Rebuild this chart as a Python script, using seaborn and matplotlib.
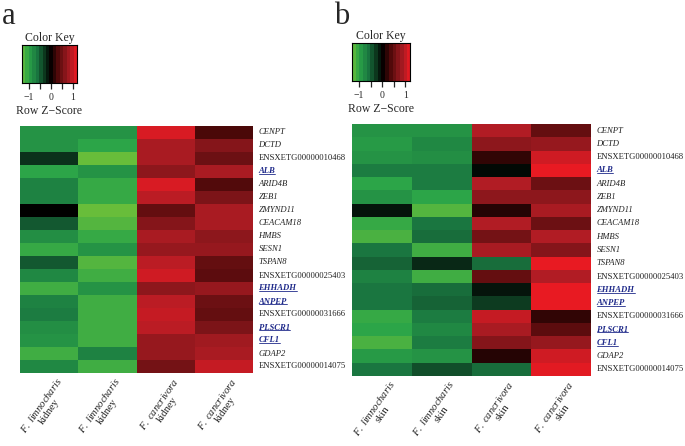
import numpy as np
import pandas as pd
import matplotlib
matplotlib.use("Agg")
import matplotlib.pyplot as plt
import seaborn as sns
from matplotlib.colors import LinearSegmentedColormap
from matplotlib.lines import Line2D

sns.set_style("white")
plt.rcParams['font.family'] = ['Liberation Serif', 'DejaVu Serif']
plt.rcParams['mathtext.fontset'] = 'custom'
plt.rcParams['mathtext.it'] = 'Liberation Serif:italic'
plt.rcParams['mathtext.rm'] = 'Liberation Serif'
plt.rcParams['axes.unicode_minus'] = True

genes = ["CENPT", "DCTD", "ENSXETG00000010468", "ALB", "ARID4B", "ZEB1", "ZMYND11",
         "CEACAM18", "HMBS", "SESN1", "TSPAN8", "ENSXETG00000025403", "EHHADH", "ANPEP",
         "ENSXETG00000031666", "PLSCR1", "CFL1", "GDAP2", "ENSXETG00000014075"]
highlight = ["ALB", "EHHADH", "ANPEP", "PLSCR1", "CFL1"]

species_a = ["F. limnocharis", "F. limnocharis", "F. cancrivora", "F. cancrivora"]
tissue_a = ["kidney", "kidney", "kidney", "kidney"]
species_b = ["F. limnocharis", "F. limnocharis", "F. cancrivora", "F. cancrivora"]
tissue_b = ["skin", "skin", "skin", "skin"]

kidney_z = [
    [-0.85, -0.85, 1.10, 0.30],
    [-0.85, -1.00, 0.85, 0.65],
    [-0.25, -1.30, 0.85, 0.50],
    [-1.00, -0.85, 0.70, 0.85],
    [-0.70, -1.05, 1.10, 0.35],
    [-0.70, -1.05, 0.95, 0.60],
    [0.00, -1.30, 0.45, 0.85],
    [-0.45, -1.20, 0.65, 0.85],
    [-0.80, -1.05, 0.85, 0.70],
    [-1.05, -0.85, 0.75, 0.75],
    [-0.45, -1.20, 0.95, 0.45],
    [-0.75, -1.10, 1.05, 0.40],
    [-1.10, -0.85, 0.70, 0.75],
    [-0.70, -1.10, 0.95, 0.50],
    [-0.65, -1.10, 1.00, 0.45],
    [-0.80, -1.10, 0.95, 0.60],
    [-0.85, -1.10, 0.75, 0.80],
    [-1.10, -0.70, 0.75, 0.85],
    [-0.75, -1.10, 0.55, 1.00],
]

skin_z = [
    [-0.85, -0.85, 0.90, 0.45],
    [-0.90, -0.75, 0.70, 0.75],
    [-0.85, -0.80, 0.20, 1.05],
    [-0.65, -0.65, -0.05, 1.18],
    [-1.00, -0.65, 0.90, 0.50],
    [-0.85, -1.00, 0.70, 0.70],
    [-0.10, -1.20, 0.15, 0.85],
    [-1.05, -0.60, 0.90, 0.50],
    [-1.15, -0.55, 0.55, 0.90],
    [-0.60, -1.10, 0.85, 0.65],
    [-0.50, -0.20, -0.55, 1.18],
    [-0.70, -1.10, 0.45, 0.90],
    [-0.60, -0.55, -0.10, 1.18],
    [-0.60, -0.50, -0.30, 1.18],
    [-1.05, -0.65, 1.00, 0.20],
    [-1.00, -0.75, 0.85, 0.40],
    [-1.15, -0.65, 0.65, 0.75],
    [-0.90, -0.85, 0.15, 1.05],
    [-0.60, -0.40, -0.55, 1.15],
]

key_ticks = [-1, -0.5, 0, 0.5, 1]
key_labels = ["\u22121", "", "0", "", "1"]

vmin, vmax = -1.3, 1.2
nodes = [(-1.3, '#68bd3a'), (-1.0, '#2ba548'), (-0.6, '#1a7640'), (0.0, '#000000'),
         (0.3, '#4a0808'), (0.6, '#7c1418'), (0.9, '#b01c24'), (1.2, '#ec1a22')]
cmap = LinearSegmentedColormap.from_list(
    "gbr", [((v - vmin) / (vmax - vmin), c) for v, c in nodes])

W, H = 685, 446
fig = plt.figure(figsize=(W / 100, H / 100), dpi=100)


def fx(px):
    return px / W


def fy(py):
    return 1 - py / H


def panel(letter, data, species, tissue, hm_box, key_box, letter_x):
    x0, y0, x1, y1 = hm_box
    ax = fig.add_axes([fx(x0), fy(y1), fx(x1) - fx(x0), fy(y0) - fy(y1)])
    cols = [f"{s} {t} {i}" for i, (s, t) in enumerate(zip(species, tissue))]
    df = pd.DataFrame(data, index=genes, columns=cols)
    sns.heatmap(df, ax=ax, cmap=cmap, vmin=vmin, vmax=vmax, cbar=False,
                xticklabels=False, yticklabels=True, linewidths=0)
    ax.yaxis.tick_right()
    ax.tick_params(axis='y', length=0, pad=4)
    for lab in ax.get_yticklabels():
        t = lab.get_text()
        lab.set_rotation(0)
        lab.set_fontsize(6.25)
        lab.set_va('center')
        if t in highlight:
            lab.set_color('#1f2a8a')
            lab.set_fontweight('bold')
            lab.set_fontstyle('italic')
        elif t.startswith('ENSXETG'):
            lab.set_color('#222222')
        else:
            lab.set_fontstyle('italic')
            lab.set_color('#222222')
    for i, (s, t) in enumerate(zip(species, tissue)):
        sp = s.replace(' ', r'\ ')
        ax.text(i + 0.6, len(genes) + 0.2, r'$\mathit{' + sp + '}$' + '\n' + t,
                rotation=55, rotation_mode='anchor', ha='right', va='top',
                multialignment='center', fontsize=7.6, color='#222222',
                linespacing=1.05)
    # color key
    kx0, ky0, kx1, ky1 = key_box
    kax = fig.add_axes([fx(kx0), fy(ky1), fx(kx1) - fx(kx0), fy(ky0) - fy(ky1)])
    steps = np.linspace(vmin, vmax, 17)
    mids = ((steps[:-1] + steps[1:]) / 2).reshape(1, -1)
    kax.imshow(mids, extent=[vmin, vmax, 0, 1], aspect='auto', cmap=cmap,
               vmin=vmin, vmax=vmax, interpolation='nearest')
    kax.set_xlim(vmin, vmax)
    kax.set_yticks([])
    kax.set_xticks(key_ticks)
    kax.set_xticklabels(key_labels, fontsize=7)
    kax.tick_params(axis='x', length=4.5, width=0.9, pad=2.5, direction='out', bottom=True)
    for sp_ in kax.spines.values():
        sp_.set_visible(True)
        sp_.set_linewidth(0.8)
        sp_.set_color('black')
    kax.set_title("Color Key", fontsize=8.5, pad=3)
    kax.set_xlabel("Row Z\u2212Score", fontsize=8.5, labelpad=2)
    fig.text(fx(letter_x), fy(24), letter, fontsize=22, ha='left', va='baseline')
    return ax


ax_a = panel('a', kidney_z, species_a, tissue_a, (20, 126, 253, 373), (22, 45, 77, 83), 2)
ax_b = panel('b', skin_z, species_b, tissue_b, (352, 124, 591, 376), (352, 43, 410, 81), 334)

fig.canvas.draw()
renderer = fig.canvas.get_renderer()
inv = fig.transFigure.inverted()
for ax in (ax_a, ax_b):
    for lab in ax.get_yticklabels():
        if lab.get_text() in highlight:
            bb = lab.get_window_extent(renderer)
            (xa, ya), (xb, yb) = inv.transform([[bb.x0, bb.y0], [bb.x1, bb.y0]])
            ya = ya + 1.2 / H
            fig.add_artist(Line2D([xa, xb], [ya, ya], transform=fig.transFigure,
                                  color='#1f2a8a', linewidth=0.6))

fig.savefig("out.png", dpi=100)
